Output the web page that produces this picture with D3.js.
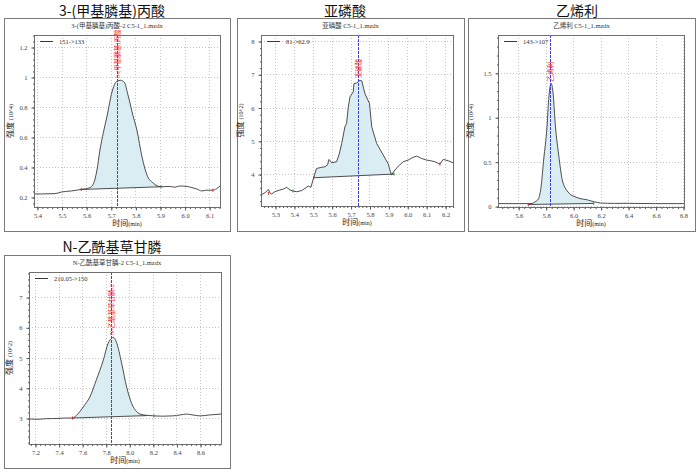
<!DOCTYPE html>
<html>
<head>
<meta charset="utf-8">
<script src="https://cdn.jsdelivr.net/npm/d3@7"></script>
<style>
body{margin:0;background:#fff;}
text{font-family:"Liberation Serif","Noto Sans CJK SC",serif;}
.big{font-family:"Noto Sans CJK SC","Noto Sans",sans-serif;}
</style>
</head>
<body>
<div id="chart"></div>
<script>
// ---- data ----
const titles = ["3-(甲基膦基)丙酸", "亚磷酸", "乙烯利", "N-乙酰基草甘膦"];
const fileNames = ["3-(甲基膦基)丙酸-2 C5-1_1.mzdx", "亚磷酸 C5-1_1.mzdx", "乙烯利 C5-1_1.mzdx", "N-乙酰基草甘膦-2 C5-1_1.mzdx"];
const transitions = ["151->133", "81->62.9", "143->107", "210.05->150"];
const peakLabels = ["3-(甲基膦基)丙酸", "亚磷酸", "乙烯利", "N-乙酰基草甘膦-2"];
const yExponents = ["4", "2", "4", "2"];
const retentionTimes = [5.727, 5.74, 5.83, 7.844];

const xDomains = [[5.388, 6.144], [5.226, 6.242], [5.453, 6.807], [7.149, 8.778]];
const yDomains = [[0.133, 1.28], [3.04, 8.18], [-0.01, 1.925], [2.14, 7.83]];
const xTicks = [
    [5.4, 5.5, 5.6, 5.7, 5.8, 5.9, 6.0, 6.1],
    [5.3, 5.4, 5.5, 5.6, 5.7, 5.8, 5.9, 6.0, 6.1, 6.2],
    [5.6, 5.8, 6.0, 6.2, 6.4, 6.6, 6.8],
    [7.2, 7.4, 7.6, 7.8, 8.0, 8.2, 8.4, 8.6]
];
const yTicks = [
    [0.2, 0.4, 0.6, 0.8, 1, 1.2],
    [4, 5, 6, 7, 8],
    [0, 0.5, 1, 1.5],
    [3, 4, 5, 6, 7]
];

// traces: [time, intensity]
const trace1 = [[5.388,0.22],[5.42,0.22],[5.473,0.222],[5.5,0.233],[5.54,0.24],[5.58,0.25],[5.615,0.262],[5.63,0.29],
    [5.644,0.38],[5.656,0.513],[5.67,0.63],[5.685,0.74],[5.705,0.9],[5.725,0.972],[5.74,0.978],[5.755,0.965],[5.77,0.88],
    [5.79,0.745],[5.806,0.647],[5.827,0.467],[5.847,0.347],[5.872,0.293],[5.905,0.268],[5.94,0.27],[5.96,0.265],[5.98,0.273],
    [6.01,0.27],[6.03,0.262],[6.05,0.253],[6.07,0.24],[6.09,0.245],[6.115,0.245],[6.13,0.255],[6.144,0.273]];
const trace2 = [[5.226,3.37],[5.25,3.45],[5.265,3.54],[5.275,3.42],[5.282,3.40],[5.3,3.47],[5.326,3.52],[5.345,3.55],
    [5.362,3.60],[5.38,3.52],[5.395,3.49],[5.415,3.47],[5.44,3.50],[5.459,3.57],[5.476,3.64],[5.49,3.60],[5.505,3.90],
    [5.52,4.17],[5.545,4.20],[5.564,4.22],[5.578,4.28],[5.586,4.44],[5.6,4.34],[5.626,4.37],[5.64,4.6],[5.653,4.92],
    [5.67,5.42],[5.679,5.52],[5.688,6.02],[5.697,6.32],[5.714,6.47],[5.718,6.72],[5.732,6.74],[5.75,6.82],[5.759,6.80],
    [5.776,6.42],[5.8,6.12],[5.812,5.42],[5.838,4.92],[5.873,4.57],[5.9,4.3],[5.908,4.12],[5.917,3.97],[5.925,4.05],
    [5.935,4.12],[5.953,4.24],[5.979,4.37],[6.005,4.42],[6.03,4.5],[6.05,4.54],[6.076,4.47],[6.102,4.42],[6.125,4.4],
    [6.146,4.37],[6.173,4.30],[6.19,4.44],[6.217,4.40],[6.242,4.34]];
const trace3 = [[5.453,0.028],[5.6,0.028],[5.673,0.028],[5.7,0.03],[5.724,0.05],[5.747,0.08],[5.765,0.2],[5.786,0.53],
    [5.81,0.9],[5.822,1.2],[5.84,1.38],[5.854,1.27],[5.871,0.90],[5.896,0.56],[5.92,0.30],[5.94,0.21],[5.957,0.17],
    [5.98,0.13],[6.006,0.11],[6.05,0.085],[6.104,0.07],[6.153,0.048],[6.2,0.035],[6.3,0.03],[6.4,0.032],[6.45,0.03],
    [6.6,0.028],[6.807,0.028]];
const trace4 = [[7.149,2.97],[7.2,2.96],[7.242,2.96],[7.3,2.98],[7.35,2.98],[7.412,2.99],[7.46,3.0],[7.519,3.0],
    [7.55,3.08],[7.58,3.21],[7.625,3.45],[7.666,3.70],[7.72,4.26],[7.78,4.92],[7.82,5.47],[7.845,5.62],[7.864,5.67],
    [7.89,5.52],[7.935,4.81],[7.977,4.03],[8.02,3.48],[8.062,3.21],[8.1,3.12],[8.147,3.09],[8.21,3.07],[8.28,3.06],
    [8.37,3.07],[8.43,3.1],[8.486,3.13],[8.54,3.1],[8.6,3.07],[8.68,3.1],[8.778,3.13]];
const traces = [trace1, trace2, trace3, trace4];

// integration baselines: [start, end] as [time, intensity]
const baselines = [
    [[5.58, 0.25], [5.905, 0.268]],
    [[5.505, 3.89], [5.93, 4.0]],
    [[5.673, 0.018], [6.15, 0.03]],
    [[7.519, 3.0], [8.15, 3.08]]
];
// peak start (s) / end (e) markers
const markers = [
    [[5.58, 0.25, "s"], [5.905, 0.268, "e"], [6.115, 0.245, "s"]],
    [[5.265, 3.42, "s"], [5.395, 3.49, "e"], [5.505, 3.89, "s"], [5.93, 4.0, "e"], [6.173, 4.30, "s"]],
    [[5.673, 0.018, "s"], [6.15, 0.03, "e"]],
    [[7.519, 3.0, "s"], [8.21, 3.07, "e"]]
];

// ---- layout ----
const panels = [
    {box: [4, 18, 226, 213], plot: {l: 34, t: 35, r: 220, b: 207}, titleX: 112, titleY: 15, yLabX: 13},
    {box: [237, 18, 227, 213], plot: {l: 261, t: 35, r: 453, b: 206}, titleX: 345, titleY: 15, yLabX: 243},
    {box: [468, 18, 227, 213], plot: {l: 498, t: 35, r: 684, b: 207}, titleX: 577, titleY: 15, yLabX: 473},
    {box: [4, 255, 226, 213], plot: {l: 29, t: 272, r: 221, b: 444}, titleX: 112, titleY: 251, yLabX: 12}
];

const svg = d3.select("#chart").append("svg")
    .attr("width", 698)
    .attr("height", 475)
    .style("background", "#fff");

function interp(tr, t) {
    for (let i = 1; i < tr.length; i++) {
        if (tr[i][0] >= t) {
            let a = tr[i - 1], b = tr[i];
            return a[1] + (b[1] - a[1]) * (t - a[0]) / (b[0] - a[0]);
        }
    }
    return tr[tr.length - 1][1];
}

panels.forEach((p, i) => {
    let g = svg.append("g");
    let pl = p.plot;
    let w = pl.r - pl.l, h = pl.b - pl.t;

    g.append("rect")
        .attr("x", p.box[0] + 0.5).attr("y", p.box[1] + 0.5)
        .attr("width", p.box[2]).attr("height", p.box[3])
        .attr("fill", "none").attr("stroke", "#7a7a7a");

    g.append("text").attr("class", "big")
        .attr("x", p.titleX).attr("y", p.titleY + 1)
        .attr("text-anchor", "middle")
        .style("font-size", "14px").attr("fill", "#111")
        .text(titles[i]);

    g.append("text")
        .attr("x", p.box[0] + p.box[2] / 2).attr("y", p.box[1] + 10)
        .attr("text-anchor", "middle")
        .style("font-size", "6.5px").attr("fill", "#333")
        .text(fileNames[i]);

    let x = d3.scaleLinear().domain(xDomains[i]).range([pl.l, pl.r]);
    let y = d3.scaleLinear().domain(yDomains[i]).range([pl.b, pl.t]);

    // grid
    g.selectAll(".gx").data(xTicks[i]).enter().append("line")
        .attr("x1", d => Math.round(x(d)) + 0.5).attr("x2", d => Math.round(x(d)) + 0.5)
        .attr("y1", pl.t).attr("y2", pl.b)
        .attr("stroke", "#c4c4c4").attr("stroke-dasharray", "1,2");
    g.selectAll(".gy").data(yTicks[i]).enter().append("line")
        .attr("y1", d => Math.round(y(d)) + 0.5).attr("y2", d => Math.round(y(d)) + 0.5)
        .attr("x1", pl.l).attr("x2", pl.r)
        .attr("stroke", "#c4c4c4").attr("stroke-dasharray", "1,2");

    // clip
    let clipId = "clip" + i;
    g.append("clipPath").attr("id", clipId).append("rect")
        .attr("x", pl.l).attr("y", pl.t).attr("width", w).attr("height", h);
    let inner = g.append("g").attr("clip-path", `url(#${clipId})`);

    let tr = traces[i];
    let curve = i === 1 ? d3.curveLinear : d3.curveMonotoneX;
    let bl = baselines[i];
    let t0 = bl[0][0], t1 = bl[1][0];
    let baseAt = t => bl[0][1] + (bl[1][1] - bl[0][1]) * (t - t0) / (t1 - t0);
    let areaPts = [[t0, interp(tr, t0)]]
        .concat(tr.filter(d => d[0] > t0 && d[0] < t1))
        .concat([[t1, interp(tr, t1)]]);

    inner.append("path").datum(areaPts)
        .attr("fill", "#daedf2")
        .attr("d", d3.area().curve(curve)
            .x(d => x(d[0])).y0(d => y(baseAt(d[0]))).y1(d => y(d[1])));

    inner.append("line")
        .attr("x1", x(t0)).attr("y1", y(bl[0][1]))
        .attr("x2", x(t1)).attr("y2", y(bl[1][1]))
        .attr("stroke", "#3a3a3a").attr("stroke-width", 0.9);

    inner.append("path").datum(tr)
        .attr("fill", "none").attr("stroke", "#3a3a3a").attr("stroke-width", 0.9)
        .attr("d", d3.line().curve(curve).x(d => x(d[0])).y(d => y(d[1])));

    inner.selectAll(".mk").data(markers[i]).enter().append("line")
        .attr("x1", d => x(d[0])).attr("x2", d => x(d[0]))
        .attr("y1", d => y(d[1]) - 1.5).attr("y2", d => y(d[1]) + 1.5)
        .attr("stroke", d => d[2] === "s" ? "#e02020" : "#20a020").attr("stroke-width", 1);

    // retention time line
    let rx = Math.round(x(retentionTimes[i])) + 0.5;
    g.append("path")
        .attr("d", `M${rx},${pl.t}V${pl.b}`)
        .attr("fill", "none")
        .style("stroke", "#3c3cff").style("stroke-width", "1px").style("stroke-dasharray", "3,1");

    let peak = d3.max(tr, d => d[1]);
    g.append("text")
        .attr("transform", `translate(${rx + 2.3},${y(peak) - 2}) rotate(-90)`)
        .style("font-size", "6.5px").attr("fill", "#ff2a2a")
        .text(peakLabels[i]);

    // plot frame
    g.append("rect")
        .attr("x", pl.l + 0.5).attr("y", pl.t + 0.5).attr("width", w).attr("height", h)
        .attr("fill", "none").attr("stroke", "#707070");

    // axes
    let xStep = (xTicks[i][1] - xTicks[i][0]) / 5;
    let xMinor = d3.range(Math.ceil(xDomains[i][0] / xStep) * xStep, xDomains[i][1], xStep);
    let yStep = (yTicks[i][1] - yTicks[i][0]) / 5;
    let yMinor = d3.range(Math.ceil(yDomains[i][0] / yStep) * yStep, yDomains[i][1], yStep);

    g.append("g").attr("transform", `translate(0.5,${pl.b + 0.5})`)
        .call(d3.axisBottom(x).tickValues(xTicks[i]).tickSize(3).tickPadding(3)
            .tickFormat(d3.format(".1f")));
    g.append("g").attr("transform", `translate(${pl.l + 0.5},0.5)`)
        .call(d3.axisLeft(y).tickValues(yTicks[i]).tickSize(3).tickPadding(4)
            .tickFormat(d3.format("~g")));
    g.append("g").attr("transform", `translate(0.5,${pl.b + 0.5})`)
        .call(d3.axisBottom(x).tickValues(xMinor).tickSize(1.5).tickFormat(""));
    g.append("g").attr("transform", `translate(${pl.l + 0.5},0.5)`)
        .call(d3.axisLeft(y).tickValues(yMinor).tickSize(1.5).tickFormat(""));
    g.selectAll(".domain").remove();
    g.selectAll(".tick line").attr("stroke", "#555");
    g.selectAll(".tick text")
        .style("font-family", "'Liberation Serif',serif")
        .style("font-size", "6.5px").attr("fill", "#444");

    // axis titles
    let xl = g.append("text")
        .attr("x", (pl.l + pl.r) / 2).attr("y", pl.b + 19)
        .attr("text-anchor", "middle").attr("fill", "#222");
    xl.append("tspan").style("font-size", "8px").text("时间");
    xl.append("tspan").style("font-size", "6px").text("(min)");

    let yl = g.append("text")
        .attr("transform", `translate(${p.yLabX},${(pl.t + pl.b) / 2}) rotate(-90)`)
        .attr("text-anchor", "middle").attr("fill", "#222");
    yl.append("tspan").style("font-size", "8px").text("强度 ");
    yl.append("tspan").style("font-size", "6px").text(`(10^${yExponents[i]})`);

    // legend
    g.append("line")
        .attr("x1", pl.l + 6).attr("x2", pl.l + 19)
        .attr("y1", pl.t + 6.5).attr("y2", pl.t + 6.5)
        .attr("stroke", "#3a3a3a");
    g.append("text")
        .attr("x", pl.l + 25).attr("y", pl.t + 8.5)
        .style("font-size", "6.5px").attr("fill", "#333")
        .text(transitions[i]);
});
</script>
</body>
</html>
